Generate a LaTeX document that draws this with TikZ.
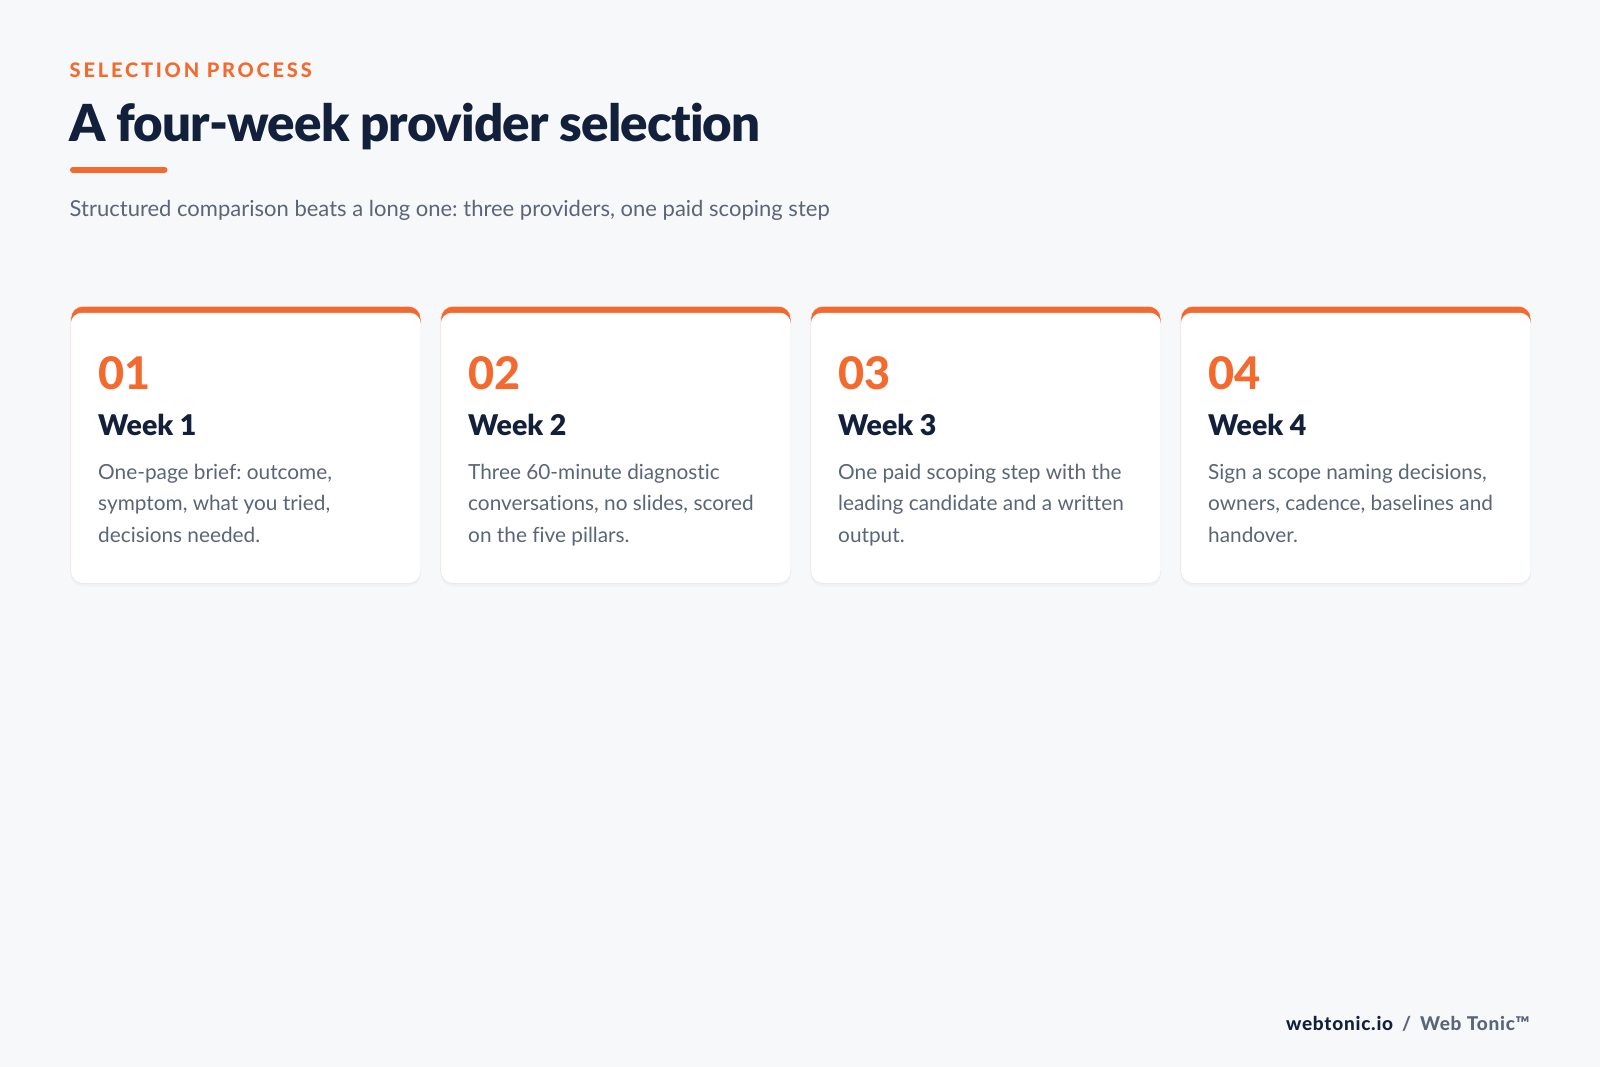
\documentclass[tikz,border=0pt]{standalone}
\usepackage{fontspec}
\setmainfont{Lato}[Ligatures=NoCommon]
\newfontfamily\heavyfont{Lato Black}[Ligatures=NoCommon, LetterSpace=-1.7]
\newfontfamily\weekfont{Lato Heavy}
\newfontfamily\blackfont{Lato Black}
\newfontfamily\trackfont{Lato Heavy}[LetterSpace=14]
\newfontfamily\footfont{Lato Heavy}[LetterSpace=4]
\usetikzlibrary{shadows}

\definecolor{pagebg}{HTML}{F7F8FA}
\definecolor{accent}{HTML}{F46A2E}
\definecolor{navy}{HTML}{13203B}
\definecolor{slate}{HTML}{5B6578}
\definecolor{cardline}{HTML}{E9ECF0}

\tikzset{
  card/.style={fill=white, draw=cardline, line width=0.6pt, rounded corners=12pt,
    minimum width=350pt, minimum height=277pt, anchor=north west, inner sep=0pt,
    drop shadow={opacity=0.05, shadow xshift=0pt, shadow yshift=-3pt},
    path picture={\fill[accent] (path picture bounding box.north west) rectangle (path picture bounding box.south east);
      \fill[white, rounded corners=11pt] ([yshift=-6.5pt]path picture bounding box.north west) rectangle ([yshift=-2pt]path picture bounding box.south east);
      \fill[white] ([yshift=20pt]path picture bounding box.south west) rectangle (path picture bounding box.south east);}},
  stepnum/.style={anchor=base west, inner sep=0pt, text=accent, font=\fontsize{45}{45}\selectfont\weekfont},
  weektitle/.style={anchor=base west, inner sep=0pt, text=navy, font=\fontsize{28.5}{29}\selectfont\blackfont},
  weekbody/.style={anchor=base west, inner sep=0pt, text=slate, align=left, font=\fontsize{20.8}{31.7}\selectfont},
}

\begin{document}
\frenchspacing
\begin{tikzpicture}[x=1pt,y=-1pt]
\fill[pagebg] (0,0) rectangle (1600,1067);
\useasboundingbox (0,0) rectangle (1600,1067);

\node[anchor=base west, inner sep=0pt, text=accent, font=\fontsize{20}{20}\selectfont\trackfont] (kicker) at (69.5,77.5) {SELECTION PROCESS};
\node[anchor=base west, inner sep=0pt, text=navy, font=\fontsize{51}{51}\selectfont\heavyfont] (title) at (69,141.7) {A four-week provider selection};
\draw[accent, line width=6pt, line cap=round] (73,169.7) -- (164.5,169.7);
\node[anchor=base west, inner sep=0pt, text=slate, font=\fontsize{22}{22}\selectfont] (subtitle) at (69.5,216.7) {Structured comparison beats a long one: three providers, one paid scoping step};

\foreach \i/\body in {1/{One-page brief: outcome,\\symptom, what you tried,\\decisions needed.},
                      2/{Three 60-minute diagnostic\\conversations, no slides, scored\\on the five pillars.},
                      3/{One paid scoping step with the\\leading candidate and a written\\output.},
                      4/{Sign a scope naming decisions,\\owners, cadence, baselines and\\handover.}}{
  \pgfmathsetmacro{\cx}{70.5+(\i-1)*370}
  \node[card] (card\i) at (\cx,306) {};
  \node[stepnum] (num\i) at ([shift={(27.5,83)}]card\i.north west) {0\i};
  \node[weektitle] (week\i) at ([shift={(27.5,129.7)}]card\i.north west) {Week \i};
  \node[weekbody] (body\i) at ([shift={(27.5,236.4)}]card\i.north west) {\body};
}

\node[anchor=base east, inner sep=0pt, font=\fontsize{19}{19}\selectfont\footfont] (footer) at (1530,1030.7)
  {\textcolor{navy}{webtonic.io}\hspace{9pt}\textcolor{slate}{/}\hspace{9pt}\textcolor{slate}{Web Tonic™}};
\end{tikzpicture}
\end{document}
